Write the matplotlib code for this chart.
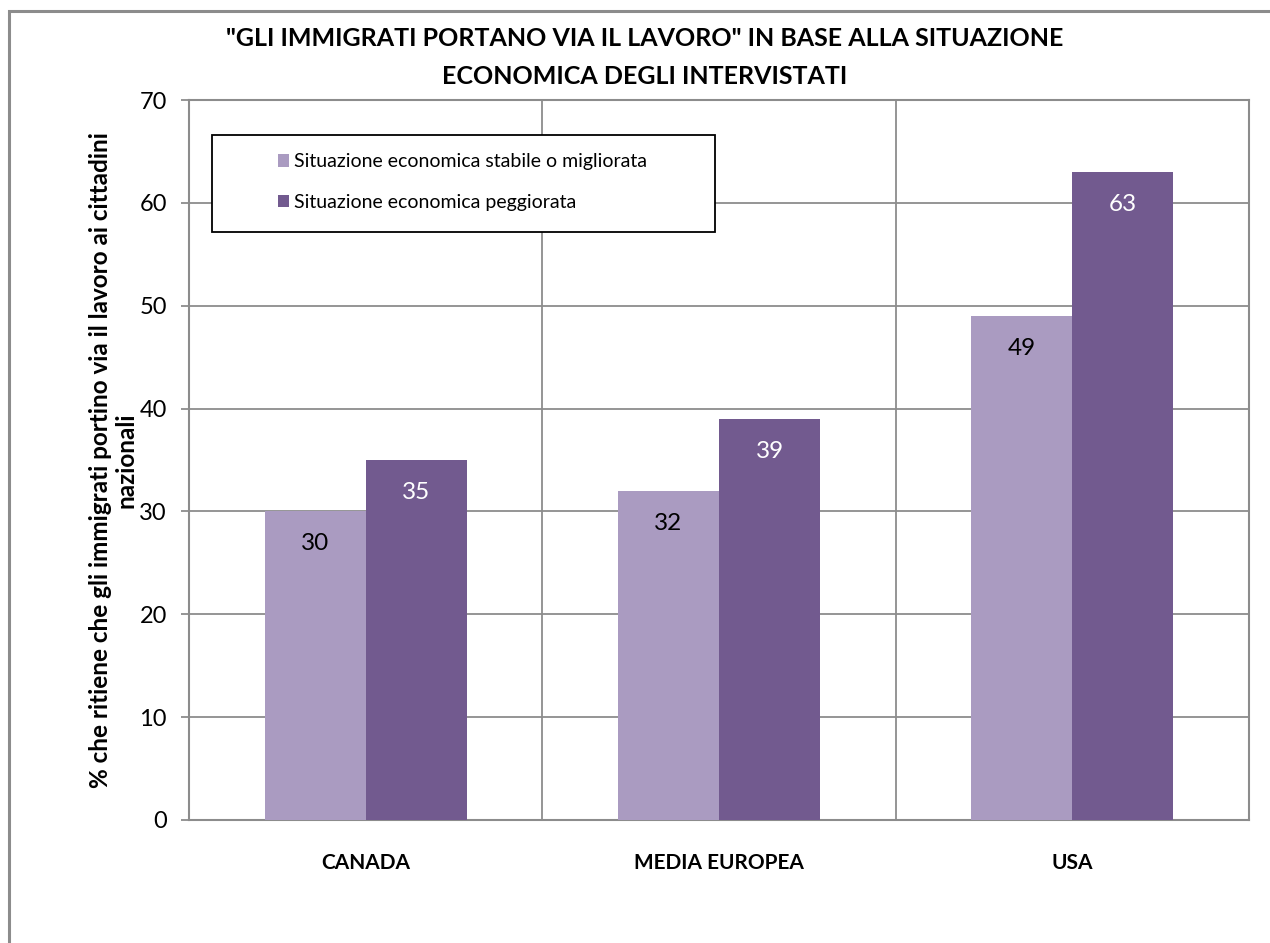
import matplotlib
matplotlib.use("Agg")
import matplotlib.pyplot as plt
from matplotlib.patches import Rectangle
import numpy as np

categories = ["CANADA", "MEDIA EUROPEA", "USA"]
stabile = [30, 32, 49]
peggiorata = [35, 39, 63]
series_names = ["Situazione economica stabile o migliorata", "Situazione economica peggiorata"]
yticks = [0, 10, 20, 30, 40, 50, 60, 70]
title = '"GLI IMMIGRATI PORTANO VIA IL LAVORO" IN BASE ALLA SITUAZIONE\nECONOMICA DEGLI INTERVISTATI'
ylabel = "% che ritiene che gli immigrati portino via il lavoro ai cittadini\nnazionali"

plt.rcParams['font.family'] = ['Lato', 'DejaVu Sans']

c_light = '#AA9BC1'
c_dark = '#725A8F'
grid_c = '#8C8C8C'

fig = plt.figure(figsize=(12.7, 9.43), dpi=100)
# outer chart frame
fig.patches.append(Rectangle((9/1270, -0.05), 1.2, 1 - 11/943 + 0.05, transform=fig.transFigure,
                             fill=False, edgecolor=grid_c, linewidth=2.2, zorder=0))

ax = fig.add_axes([189/1270, 1 - 820/943, 1060/1270, 720/943])
x = np.arange(len(categories))
w = 0.286
b1 = ax.bar(x - w/2, stabile, w, color=c_light, zorder=3, label=series_names[0])
b2 = ax.bar(x + w/2, peggiorata, w, color=c_dark, zorder=3, label=series_names[1])

ax.bar_label(b1, labels=[str(v) for v in stabile], label_type='edge', padding=-31,
             fontsize=17.5, color='black')
ax.bar_label(b2, labels=[str(v) for v in peggiorata], label_type='edge', padding=-31,
             fontsize=17.5, color='white')

ax.set_xlim(-0.5, len(categories) - 0.5)
ax.set_ylim(0, 70)
ax.set_yticks(yticks)
ax.set_yticklabels([str(t) for t in yticks], fontsize=17)
ax.set_xticks(x)
ax.set_xticklabels(categories, fontsize=15, fontweight='bold')
ax.set_xticks([0.5, 1.5], minor=True)
ax.tick_params(axis='x', which='both', length=0, pad=24)
ax.tick_params(axis='y', length=6, width=1.3, color=grid_c, pad=10)
ax.grid(axis='y', color=grid_c, linewidth=1.3, zorder=0)
ax.grid(axis='x', which='minor', color=grid_c, linewidth=1.3, zorder=0)
for s in ax.spines.values():
    s.set_color(grid_c)
    s.set_linewidth(1.5)

ax.set_ylabel(ylabel, fontsize=17.5, fontweight='bold', labelpad=1, linespacing=1.15)
fig.suptitle(title, fontsize=18, fontweight='bold', x=645/1270, y=1 - 27/943, va='top', linespacing=1.78)

# legend box
ax.add_patch(Rectangle((23/1060, (820-232)/720), (715-212)/1060, (232-135)/720,
                       transform=ax.transAxes, facecolor='white', edgecolor='black',
                       linewidth=1.3, zorder=5))
leg = ax.legend(loc='upper left', bbox_to_anchor=(71/1060, (820-136)/720), frameon=False,
                fontsize=14, handlelength=0.6, handleheight=0.6, handletextpad=0.25,
                labelspacing=1.2)
leg.set_zorder(6)

fig.savefig("out.png", dpi=100)
